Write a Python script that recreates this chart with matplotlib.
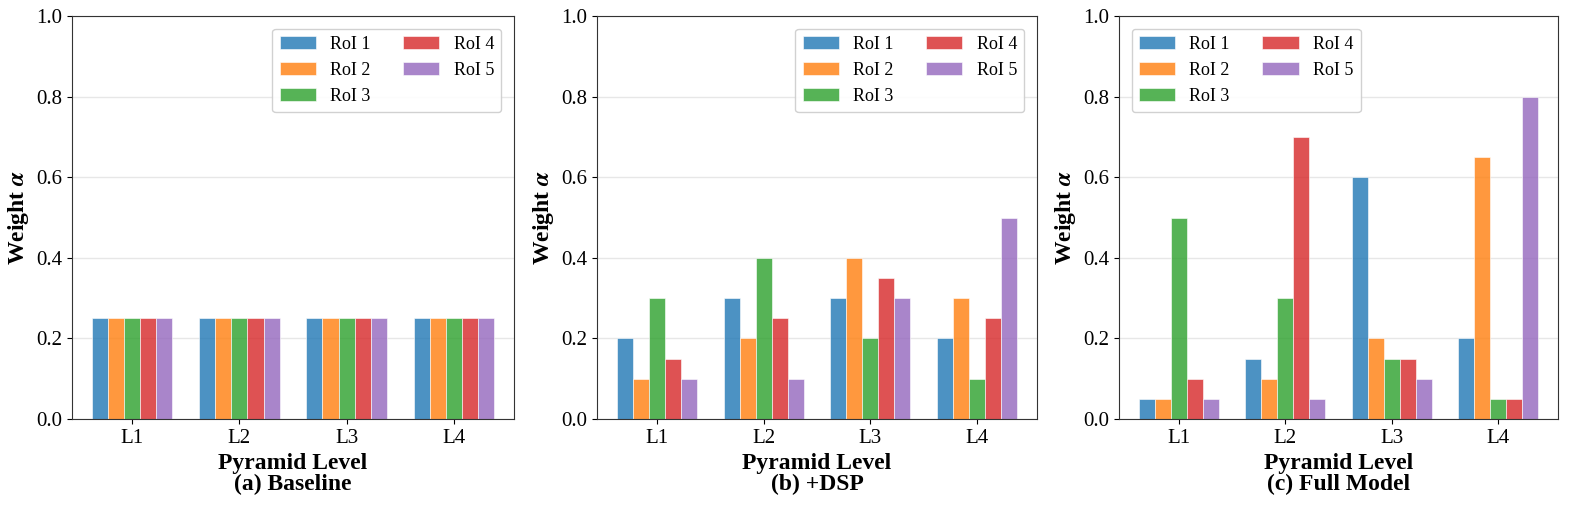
import matplotlib
matplotlib.use("Agg")
import matplotlib.pyplot as plt
import numpy as np

plt.rcParams['font.family'] = ['Liberation Serif', 'DejaVu Serif']
plt.rcParams['mathtext.fontset'] = 'stix'

levels = ["L1", "L2", "L3", "L4"]
rois = ["RoI 1", "RoI 2", "RoI 3", "RoI 4", "RoI 5"]
colors = ["#1f77b4", "#ff7f0e", "#2ca02c", "#d62728", "#9467bd"]

# values[roi][level]
baseline = [
    [0.25, 0.25, 0.25, 0.25],
    [0.25, 0.25, 0.25, 0.25],
    [0.25, 0.25, 0.25, 0.25],
    [0.25, 0.25, 0.25, 0.25],
    [0.25, 0.25, 0.25, 0.25],
]
dsp = [
    [0.20, 0.30, 0.30, 0.20],
    [0.10, 0.20, 0.40, 0.30],
    [0.30, 0.40, 0.20, 0.10],
    [0.15, 0.25, 0.35, 0.25],
    [0.10, 0.10, 0.30, 0.50],
]
full = [
    [0.05, 0.15, 0.60, 0.20],
    [0.05, 0.10, 0.20, 0.65],
    [0.50, 0.30, 0.15, 0.05],
    [0.10, 0.70, 0.15, 0.05],
    [0.05, 0.05, 0.10, 0.80],
]
titles = ["(a) Baseline", "(b) +DSP", "(c) Full Model"]
legend_locs = ["upper right", "upper right", "upper left"]
panels = [baseline, dsp, full]

W, H = 1570, 508
fig = plt.figure(figsize=(W / 100, H / 100), dpi=100)
lefts = [72, 597, 1119]
widths = [442, 440, 439]
top, bottom = 16, 419

width = 0.15
x = np.arange(len(levels))
for i, data in enumerate(panels):
    ax = fig.add_axes([lefts[i] / W, (H - bottom) / H, widths[i] / W, (bottom - top) / H])
    for j, roi in enumerate(rois):
        ax.bar(x + (j - 2) * width, data[j], width, label=roi, color=colors[j],
               alpha=0.8, edgecolor='white', linewidth=0.5)
    ax.set_ylim(0, 1.0)
    ax.set_xticks(x)
    ax.set_xticklabels(levels)
    ax.tick_params(labelsize=15)
    ax.set_yticks([0.0, 0.2, 0.4, 0.6, 0.8, 1.0])
    ax.yaxis.grid(True, color='#dddddd', alpha=0.7, linewidth=1)
    ax.set_axisbelow(True)
    for s in ax.spines.values():
        s.set_color('#333333')
    ax.set_ylabel(r"Weight $\boldsymbol{\alpha}$", fontsize=17, fontweight='bold')
    ax.set_xlabel("Pyramid Level\n" + titles[i], fontsize=17, fontweight='bold',
                  linespacing=1.0)
    ax.legend(loc=legend_locs[i], ncol=2, fontsize=13, framealpha=0.9,
              handlelength=2.0, columnspacing=1.8, borderaxespad=0.7)

fig.savefig("out.png", dpi=100)
